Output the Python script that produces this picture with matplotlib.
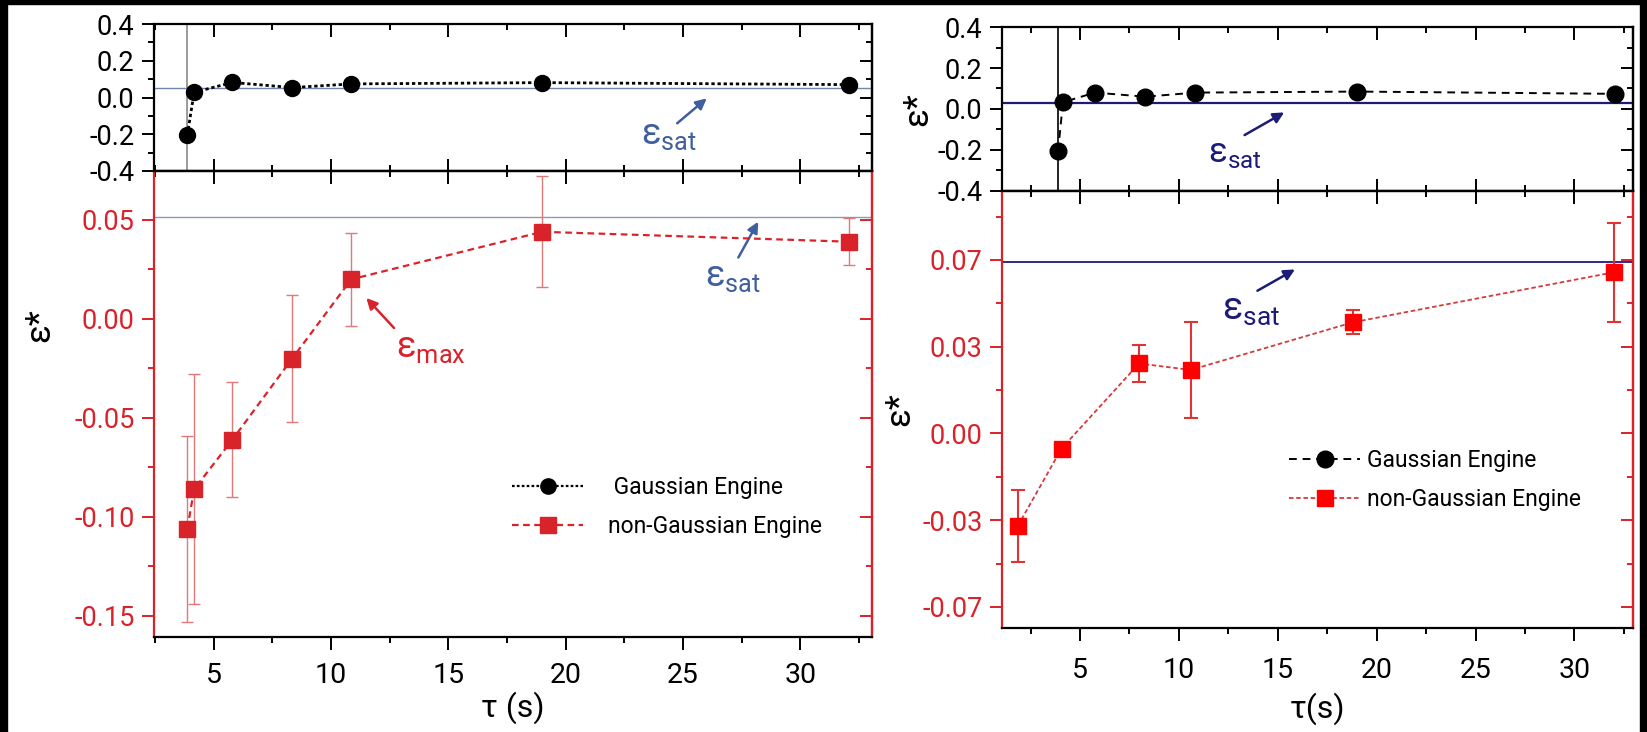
import matplotlib
matplotlib.use("Agg")
import matplotlib.pyplot as plt
from matplotlib.lines import Line2D
from matplotlib.patches import Rectangle

plt.rcParams['font.family'] = ['Roboto', 'DejaVu Sans']
plt.rcParams['axes.unicode_minus'] = False

# ---- data ----
# left panel
left_tau = [3.87, 4.16, 5.79, 8.34, 10.86, 19.0, 32.07]
left_eps_gauss = [-0.205, 0.028, 0.082, 0.054, 0.074, 0.081, 0.070]
left_eps_ng = [-0.106, -0.086, -0.061, -0.020, 0.020, 0.044, 0.039]
left_err_ng = [0.047, 0.058, 0.029, 0.032, 0.0235, 0.028, 0.012]
left_sat_top = 0.050
left_sat_bottom = 0.0515

# right panel
right_tau_gauss = [3.89, 4.14, 5.76, 8.30, 10.84, 19.0, 32.05]
right_eps_gauss = [-0.207, 0.033, 0.080, 0.060, 0.080, 0.085, 0.074]
right_tau_ng = [1.86, 4.07, 7.99, 10.60, 18.79, 31.99]
right_eps_ng = [-0.0373, -0.0061, 0.0282, 0.0256, 0.0448, 0.0650]
right_err_ng = [0.0146, 0.0015, 0.0073, 0.0194, 0.0048, 0.0199]
right_sat_top = 0.029
right_sat_bottom = 0.0690

top_yticks = [0.4, 0.2, 0.0, -0.2, -0.4]
left_yticks = [0.05, 0.0, -0.05, -0.10, -0.15]
right_yticks = [0.07, 0.035, 0.0, -0.035, -0.07]
right_ylabels = ['0.07', '0.03', '0.00', '-0.03', '-0.07']
xticks = [5, 10, 15, 20, 25, 30]
xminor = [2.5, 7.5, 12.5, 17.5, 22.5, 27.5, 32.5]

RED = '#d9232b'
BLUE = '#3f5f9f'
NAVY = '#1b1b78'
TICK_FS = 19.5


def style_top(ax, xlim):
    ax.set_xlim(*xlim)
    ax.set_ylim(-0.4, 0.4)
    ax.set_xticks(xticks)
    ax.set_xticks(xminor, minor=True)
    ax.set_yticks(top_yticks)
    ax.set_yticks([0.3, 0.1, -0.1, -0.3], minor=True)
    ax.set_yticklabels(['%.1f' % v for v in top_yticks])
    ax.tick_params(axis='x', which='both', direction='in', top=True, bottom=True,
                   labelbottom=False, width=1.4)
    ax.tick_params(axis='x', which='major', length=9)
    ax.tick_params(axis='x', which='minor', length=4.5)
    ax.tick_params(axis='y', which='both', direction='out', width=1.4,
                   labelsize=TICK_FS, pad=5)
    ax.tick_params(axis='y', which='major', length=9)
    ax.tick_params(axis='y', which='minor', length=4.5)
    for s in ax.spines.values():
        s.set_linewidth(1.6)
    sec = ax.secondary_yaxis('right')
    sec.set_yticks(top_yticks)
    sec.set_yticks([0.3, 0.1, -0.1, -0.3], minor=True)
    sec.set_yticklabels([])
    sec.tick_params(which='both', direction='in', width=1.4)
    sec.tick_params(which='major', length=9)
    sec.tick_params(which='minor', length=4.5)
    sec.spines['right'].set_linewidth(1.6)


def style_bottom(ax, xlim, ylim, yt, ylab, yminor, xpad):
    ax.set_xlim(*xlim)
    ax.set_ylim(*ylim)
    ax.set_xticks(xticks)
    ax.set_xticks(xminor, minor=True)
    ax.set_yticks(yt)
    ax.set_yticklabels(ylab)
    ax.set_yticks(yminor, minor=True)
    ax.tick_params(axis='x', which='both', direction='out', width=1.4,
                   labelsize=20.5, pad=xpad)
    ax.tick_params(axis='x', which='major', length=9)
    ax.tick_params(axis='x', which='minor', length=4.5)
    ax.tick_params(axis='y', which='both', direction='out', width=1.4,
                   color=RED, labelcolor=RED, labelsize=TICK_FS, pad=5)
    ax.tick_params(axis='y', which='major', length=9)
    ax.tick_params(axis='y', which='minor', length=4.5)
    for s in ax.spines.values():
        s.set_linewidth(1.6)
    ax.spines['left'].set_color(RED)
    ax.spines['right'].set_color(RED)
    secx = ax.secondary_xaxis('top')
    secx.set_xticks(xticks)
    secx.set_xticks(xminor, minor=True)
    secx.set_xticklabels([])
    secx.tick_params(which='both', direction='in', width=1.4)
    secx.tick_params(which='major', length=9)
    secx.tick_params(which='minor', length=4.5)
    secx.spines['top'].set_linewidth(1.6)
    secy = ax.secondary_yaxis('right')
    secy.set_yticks(yt)
    secy.set_yticks(yminor, minor=True)
    secy.set_yticklabels([])
    secy.tick_params(which='both', direction='in', width=1.4, color=RED)
    secy.tick_params(which='major', length=9)
    secy.tick_params(which='minor', length=4.5)
    secy.spines['right'].set_color(RED)
    secy.spines['right'].set_linewidth(1.6)


def eps_label(ax, x, y, color, size=26, sub='sat'):
    # one text: epsilon with a regular-font subscript
    ax.text(x, y, 'ε$_{\\mathregular{%s}}$' % sub, color=color, fontsize=size,
            ha='left', va='baseline')


fig = plt.figure(figsize=(16.47, 7.32), dpi=100)

ax_lt = fig.add_axes([0.0935, 0.7664, 0.4359, 0.2008])
ax_lb = fig.add_axes([0.0935, 0.1298, 0.4359, 0.6366])
ax_rt = fig.add_axes([0.6084, 0.7391, 0.3831, 0.2240])
ax_rb = fig.add_axes([0.6084, 0.1421, 0.3831, 0.5970])

# ---- left top: Gaussian ----
ax_lt.axvline(left_tau[0], color='#8a8a8a', lw=1.2, zorder=1)
ax_lt.axhline(left_sat_top, color='#6f86ad', lw=1.0, zorder=1)
ax_lt.plot(left_tau, left_eps_gauss, color='black', ls=(0, (1.2, 1.0)), lw=2.0,
           marker='o', ms=11.5, zorder=3)
style_top(ax_lt, (2.45, 33.05))
eps_label(ax_lt, 23.2, -0.255, BLUE)
ax_lt.annotate('', xy=(26.1, 0.005), xytext=(24.66, -0.15),
               arrowprops=dict(arrowstyle='-|>', color=BLUE, lw=1.8, mutation_scale=16))

# ---- left bottom: non-Gaussian ----
ax_lb.axhline(left_sat_bottom, color='#8c9bb0', lw=1.0, zorder=1)
ax_lb.errorbar(left_tau, left_eps_ng, yerr=left_err_ng, color=RED, ecolor='#e07a7a',
               elinewidth=1.0, capsize=4, capthick=1.0, ls=(0, (3, 2)), lw=1.6,
               marker='s', ms=11, zorder=3)
style_bottom(ax_lb, (2.45, 33.05), (-0.1606, 0.0747), left_yticks,
             ['%.2f' % v for v in left_yticks], [0.025, -0.025, -0.075, -0.125], 9)
eps_label(ax_lb, 25.95, 0.0165, BLUE)
ax_lb.annotate('', xy=(28.26, 0.0503), xytext=(27.3, 0.0298),
               arrowprops=dict(arrowstyle='-|>', color=BLUE, lw=1.8, mutation_scale=16))
eps_label(ax_lb, 12.75, -0.019, RED, sub='max')
ax_lb.annotate('', xy=(11.42, 0.0116), xytext=(12.76, -0.0056),
               arrowprops=dict(arrowstyle='-|>', color=RED, lw=1.8, mutation_scale=16))
ax_lb.set_xlabel('τ (s)', fontsize=23, labelpad=2)
fig.text(0.024, 1 - 325 / 732, 'ε*', fontsize=25, rotation=90, ha='center', va='center')

handles_l = [
    Line2D([], [], color='black', ls=(0, (1.2, 1.0)), lw=1.6, marker='o', ms=11),
    Line2D([], [], color=RED, ls=(0, (3, 2)), lw=1.6, marker='s', ms=11),
]
ax_lb.legend(handles_l, [' Gaussian Engine', 'non-Gaussian Engine'], loc='upper left',
             bbox_to_anchor=(0.499, 0.345), frameon=False, fontsize=16.5, handlelength=3.1,
             handletextpad=1.1, labelspacing=0.7, borderpad=0, borderaxespad=0)

# ---- right top: Gaussian ----
ax_rt.axvline(right_tau_gauss[0], color='black', lw=1.2, zorder=1)
ax_rt.axhline(right_sat_top, color=NAVY, lw=1.6, zorder=1)
ax_rt.plot(right_tau_gauss, right_eps_gauss, color='black', ls=(0, (4, 3)), lw=1.4,
           marker='o', ms=12, zorder=3)
style_top(ax_rt, (1.06, 32.96))
ax_rt.set_ylabel('ε*', fontsize=25, labelpad=2)
eps_label(ax_rt, 11.45, -0.26, NAVY, size=25)
ax_rt.annotate('', xy=(15.45, -0.01), xytext=(13.2, -0.134),
               arrowprops=dict(arrowstyle='-|>', color=NAVY, lw=1.8, mutation_scale=16))

# ---- right bottom: non-Gaussian ----
ax_rb.axhline(right_sat_bottom, color=NAVY, lw=1.3, zorder=1)
ax_rb.errorbar(right_tau_ng, right_eps_ng, yerr=right_err_ng, color='#d63a3a',
               ecolor='#e03333', elinewidth=1.5, capsize=5, capthick=1.5,
               ls=(0, (2.5, 1.5)), lw=1.3, mfc='#ff0000', mec='#ff0000',
               marker='s', ms=12, zorder=3)
style_bottom(ax_rb, (1.06, 32.96), (-0.0785, 0.0978), right_yticks, right_ylabels,
             [0.0875, 0.0525, 0.0175, -0.0175, -0.0525], 12)
ax_rb.set_xlabel('τ(s)', fontsize=23, labelpad=6)
ax_rb.set_ylabel('ε*', fontsize=25, labelpad=4)
eps_label(ax_rb, 12.2, 0.046, NAVY, size=27)
ax_rb.annotate('', xy=(15.99, 0.0667), xytext=(13.85, 0.057),
               arrowprops=dict(arrowstyle='-|>', color=NAVY, lw=1.8, mutation_scale=16))

handles_r = [
    Line2D([], [], color='black', ls=(0, (4, 3)), lw=1.4, marker='o', ms=12),
    Line2D([], [], color='#d63a3a', ls=(0, (2.5, 1.5)), lw=1.3, marker='s', ms=12,
           mfc='#ff0000', mec='#ff0000'),
]
ax_rb.legend(handles_r, ['Gaussian Engine', 'non-Gaussian Engine'], loc='upper left',
             bbox_to_anchor=(0.455, 0.41), frameon=False, fontsize=16.5, handlelength=3.1,
             handletextpad=0.3, labelspacing=0.7, borderpad=0, borderaxespad=0)

# black strips along the edges of the scanned picture
fig.add_artist(Rectangle((0, 0), 7 / 1647, 1, transform=fig.transFigure,
                         color='black', zorder=10))
fig.add_artist(Rectangle((1 - 7 / 1647, 0), 7 / 1647, 1, transform=fig.transFigure,
                         color='black', zorder=10))
fig.add_artist(Rectangle((0, 1 - 4 / 732), 1, 4 / 732, transform=fig.transFigure,
                         color='black', zorder=10))

fig.savefig('out.png', dpi=100)
